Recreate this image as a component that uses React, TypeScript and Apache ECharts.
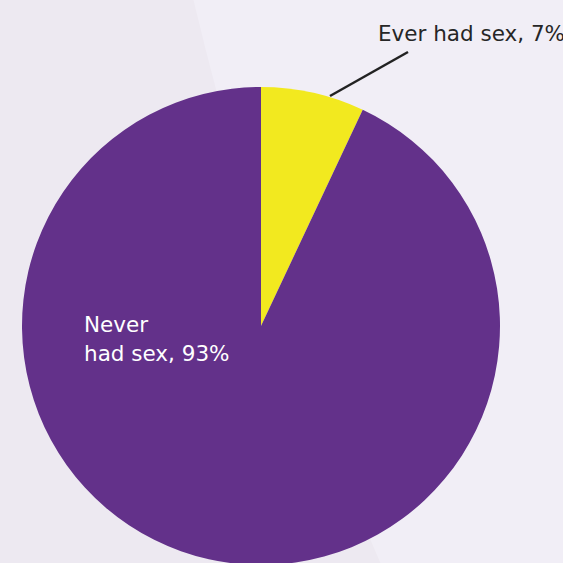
import React, { useEffect, useRef } from "react";
import * as echarts from "echarts";

const categories = ["Ever had sex", "Never had sex"];
const values = [7, 93];
const labels = ["Ever had sex, 7%", "Never\nhad sex, 93%"];
const colors = ["#f2e91f", "#63318a"];

export default function App() {
  const ref = useRef<HTMLDivElement>(null);
  useEffect(() => {
    document.body.style.margin = "0";
    if (!ref.current) return;
    const chart = echarts.init(ref.current, null, { renderer: "svg" });
    chart.setOption({
      animation: false,
      backgroundColor: "#ede9f1",
      graphic: [
        {
          type: "circle",
          z: -10,
          silent: true,
          shape: { cx: 3491, cy: -782, r: 3389 },
          style: { fill: "#f1eef6" },
        },
      ],
      series: [
        {
          type: "pie",
          center: [261, 326],
          radius: [0, 239],
          startAngle: 90,
          clockwise: true,
          data: categories.map((c, i) => ({
            name: c,
            value: values[i],
            itemStyle: { color: colors[i] },
            label: {
              show: true,
              formatter: labels[i],
              position: i === 0 ? "outside" : "inside",
              color: i === 0 ? "#262626" : "#ffffff",
              fontFamily: "DejaVu Sans",
              fontSize: 21.5,
              lineHeight: 29,
              align: "left",
            },
            labelLine: {
              show: i === 0,
              lineStyle: { color: "#222222", width: 2.5 },
            },
          })),
          labelLayout: (params: any) => {
            if (params.dataIndex === 0) {
              return {
                x: 378,
                y: 33,
                align: "left",
                verticalAlign: "middle",
                labelLinePoints: [
                  [330, 96],
                  [369, 74],
                  [408, 52],
                ],
              };
            }
            return { x: 84, y: 339, align: "left", verticalAlign: "middle" };
          },
        },
      ],
    });
    return () => chart.dispose();
  }, []);
  return <div ref={ref} style={{ width: 563, height: 563 }} />;
}
